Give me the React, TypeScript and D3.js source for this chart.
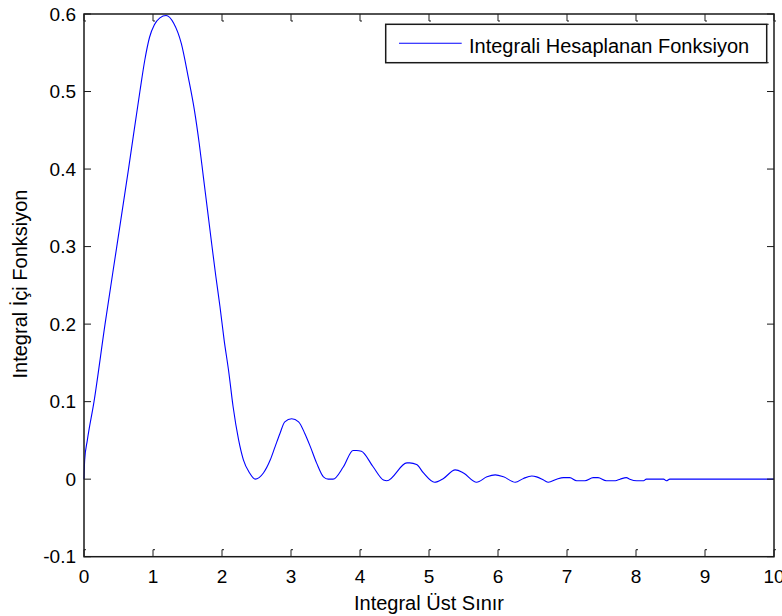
import React from "react";
import * as d3 from "d3";

const xValues = [
  0, 0.01, 0.048, 0.145, 0.305, 0.475, 0.645, 0.81, 0.88, 0.95, 1.02, 1.1, 1.19, 1.3, 1.41, 1.51, 1.6,
  1.67, 1.73, 1.79, 1.85, 1.91, 1.97, 2.03, 2.1, 2.16, 2.24, 2.31, 2.4, 2.48, 2.6, 2.7, 2.77, 2.84,
  2.91, 3.01, 3.11, 3.2, 3.28, 3.37, 3.47, 3.54, 3.61, 3.76, 3.9, 3.95, 4.02, 4.19, 4.34, 4.39, 4.68,
  4.72, 4.82, 4.92, 5.08, 5.21, 5.38, 5.5, 5.69, 5.84, 5.96, 6.08, 6.25, 6.37, 6.49, 6.56, 6.66, 6.73,
  6.85, 6.95, 7.04, 7.14, 7.26, 7.38, 7.45, 7.57, 7.7, 7.77, 7.86, 7.91, 8.01, 8.11, 8.15, 8.4, 8.44,
  8.49, 10,
];
const yValues = [
  0, 0.025, 0.05, 0.1, 0.2, 0.3, 0.4, 0.5, 0.54, 0.57, 0.586, 0.595, 0.598, 0.588, 0.562, 0.519,
  0.476, 0.433, 0.39, 0.347, 0.304, 0.262, 0.223, 0.18, 0.137, 0.094, 0.051, 0.025, 0.008, 0.0, 0.008,
  0.025, 0.042, 0.059, 0.074, 0.078, 0.074, 0.059, 0.042, 0.021, 0.003, 0, 0, 0.016, 0.037, 0.037,
  0.036, 0.016, -0.001, -0.002, 0.021, 0.021, 0.019, 0.008, -0.004, 0.001, 0.012, 0.008, -0.004, 0.003,
  0.0055, 0.003, -0.004, 0.001, 0.004, 0.003, -0.001, -0.004, 0, 0.002, 0.002, -0.002, -0.002, 0.002,
  0.002, -0.002, -0.002, 0, 0.002, 0, -0.002, -0.002, 0, 0, -0.002, 0, 0,
];

const xTicks = [0, 1, 2, 3, 4, 5, 6, 7, 8, 9, 10];
const yTicks = [-0.1, 0, 0.1, 0.2, 0.3, 0.4, 0.5, 0.6];
const xTickLabels = ["0", "1", "2", "3", "4", "5", "6", "7", "8", "9", "10"];
const yTickLabels = ["-0.1", "0", "0.1", "0.2", "0.3", "0.4", "0.5", "0.6"];

const xLabel = "Integral Üst Sınır";
const yLabel = "Integral İçi Fonksiyon";
const legendLabel = "Integrali Hesaplanan Fonksiyon";

export default function App() {
  const W = 782;
  const H = 616;
  const left = 84;
  const right = 774;
  const top = 14;
  const bottom = 556.7;
  const x = d3.scaleLinear().domain([0, 10]).range([left, right]);
  const y = d3.scaleLinear().domain([-0.1, 0.6]).range([bottom, top]);
  const pts: [number, number][] = xValues.map((v, i) => [v, yValues[i]]);
  const line = d3
    .line<[number, number]>()
    .x((d) => x(d[0]))
    .y((d) => y(d[1]))
    .curve(d3.curveMonotoneX);
  const font = "'Liberation Sans', Arial, Helvetica, sans-serif";
  const tl = 7;
  const axisColor = "#1a1a1a";

  return (
    <svg
      width={W}
      height={H}
      style={{ position: "absolute", left: 0, top: 0, background: "#fff" }}
      fontFamily={font}
    >
      <rect x={0} y={0} width={W} height={H} fill="#fff" />
      {/* data line */}
      <path d={line(pts) || ""} fill="none" stroke="#0000ff" strokeWidth={1.1} />
      {/* box */}
      <rect
        x={left}
        y={top}
        width={right - left}
        height={bottom - top}
        fill="none"
        stroke={axisColor}
        strokeWidth={1.5}
      />
      {/* x ticks */}
      {xTicks.map((t, i) => (
        <g key={"xt" + i} stroke={axisColor} strokeWidth={1} fill="none">
          <path d={`M${x(t)},${bottom} V${bottom - tl} h2`} />
          <path d={`M${x(t)},${top} V${top + tl} h2`} />
        </g>
      ))}
      {/* y ticks */}
      {yTicks.map((t, i) => (
        <g key={"yt" + i} stroke={axisColor} strokeWidth={1} fill="none">
          <path d={`M${left},${y(t)} H${left + tl}`} />
          <path d={`M${right},${y(t)} H${right - tl}`} />
        </g>
      ))}
      {/* x tick labels */}
      {xTicks.map((t, i) => (
        <text
          key={"xl" + i}
          x={x(t)}
          y={bottom + 26.6}
          textAnchor="middle"
          fontSize={19}
          fill="#000"
        >
          {xTickLabels[i]}
        </text>
      ))}
      {/* y tick labels */}
      {yTicks.map((t, i) => (
        <text
          key={"yl" + i}
          x={76}
          y={y(t) + 6.7}
          textAnchor="end"
          fontSize={19}
          fill="#000"
        >
          {yTickLabels[i]}
        </text>
      ))}
      {/* axis labels */}
      <text x={(left + right) / 2} y={610} textAnchor="middle" fontSize={20} fill="#000">
        {xLabel}
      </text>
      <text
        transform={`translate(27,284) rotate(-90)`}
        textAnchor="middle"
        fontSize={20}
        fill="#000"
      >
        {yLabel}
      </text>
      {/* legend */}
      <g>
        <rect
          x={385.7}
          y={24.3}
          width={381}
          height={38.4}
          fill="#fff"
          stroke={axisColor}
          strokeWidth={1.5}
        />
        <path d="M766.7,24.3 h2 M766.7,62.7 h2" stroke={axisColor} strokeWidth={1} />
        <line x1={399} x2={461.7} y1={43.3} y2={43.3} stroke="#0000ff" strokeWidth={1.1} />
        <text x={469} y={53.3} fontSize={20} fill="#000">
          {legendLabel}
        </text>
      </g>
    </svg>
  );
}
